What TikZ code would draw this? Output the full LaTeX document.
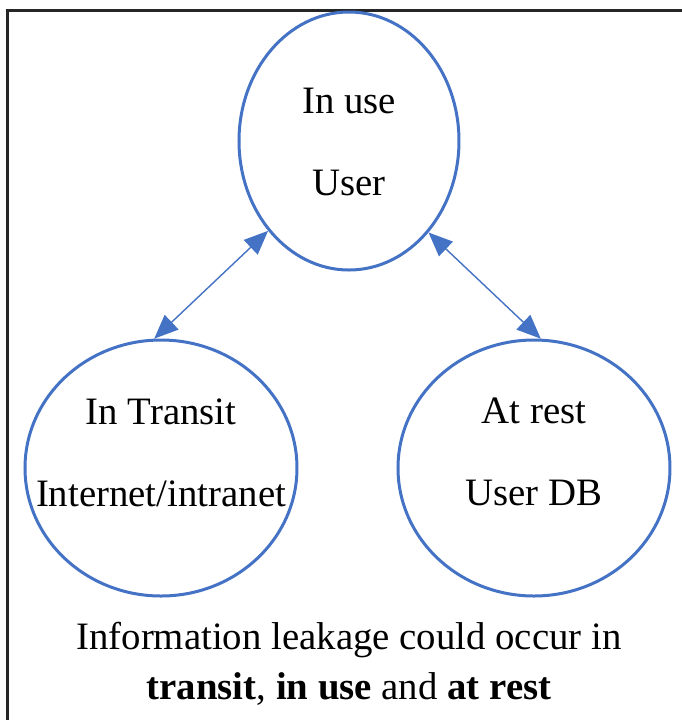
\documentclass[tikz,border=0pt]{standalone}
\usepackage{fontspec}
\setmainfont{Liberation Serif}
\usetikzlibrary{shapes.geometric,arrows.meta}
\definecolor{ringblue}{HTML}{4472C4}

\begin{document}
\begin{tikzpicture}[x=0.5pt, y=-0.5pt,
    every node/.style={font=\fontsize{19.4}{41}\selectfont, align=center},
    bubble/.style={draw=ringblue, line width=1.5pt, ellipse, inner sep=0pt},
    link/.style={draw=ringblue, line width=0.7pt,
      {Triangle[length=12pt, width=10pt]}-{Triangle[length=12pt, width=10pt]}}]
      \useasboundingbox (0,0) rectangle (682,720);
      \draw[line width=1.5pt, black!85] (682,10) -- (8,10) -- (8,720);
      \node[bubble, minimum width=110pt, minimum height=129pt] (use) at (349,141) {};
      \node[bubble, minimum width=136pt, minimum height=128pt] (transit) at (161,468) {};
      \node[bubble, minimum width=136pt, minimum height=128pt] (rest) at (534,468) {};
      \node (uselbl) at (349,142) {In use\\User};
      \node (transitlbl) at (161,453) {In Transit\\Internet/intranet};
      \node (restlbl) at (534,452) {At rest\\User DB};
      \draw[link] (use.228) -- (transit.93);
      \draw[link] (use.311) -- (rest.87);
      \node[font=\fontsize{19.4}{25}\selectfont] (caption) at (349,664)
        {Information leakage could occur in\\\textbf{transit}, \textbf{in use} and \textbf{at rest}};
    \end{tikzpicture}
\end{document}
